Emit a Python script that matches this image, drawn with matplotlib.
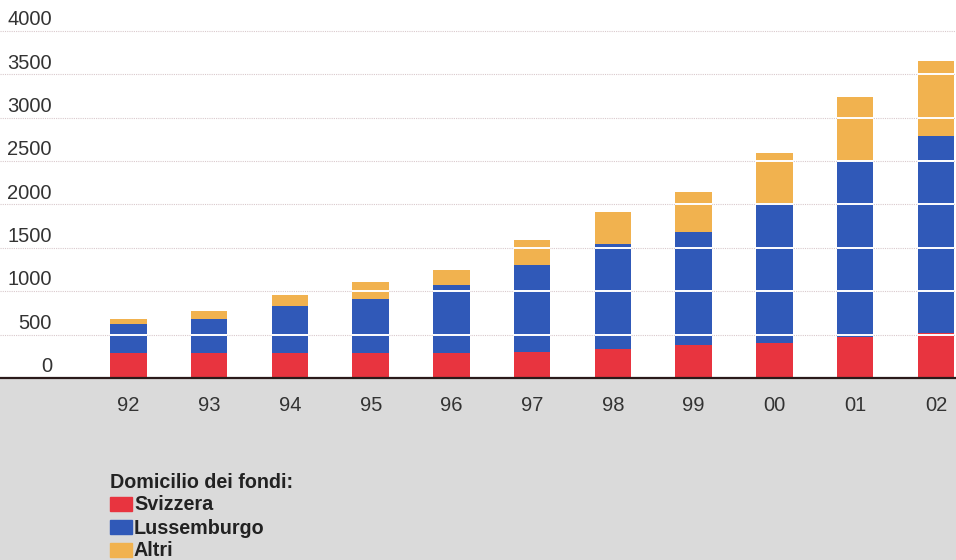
import matplotlib.pyplot as plt
import matplotlib.transforms as mtransforms
import numpy as np

plt.rcParams['font.family'] = ['Liberation Sans', 'DejaVu Sans']

# ------------------------------------------------------------------
# Data
# ------------------------------------------------------------------
years = ["92", "93", "94", "95", "96", "97", "98", "99", "00", "01", "02"]
svizzera = [286, 286, 286, 286, 286, 298, 329, 385, 406, 471, 522]
lussemburgo = [332, 393, 539, 621, 782, 1001, 1221, 1299, 1606, 2033, 2267]
altri = [66, 98, 128, 196, 173, 297, 361, 462, 577, 732, 869]

y_ticks = [0, 500, 1000, 1500, 2000, 2500, 3000, 3500, 4000]
legend_title = "Domicilio dei fondi:"
legend_labels = ["Svizzera", "Lussemburgo", "Altri"]

RED = "#e8343f"
BLUE = "#3059b8"
ORANGE = "#f1b24f"
GRAY_BG = "#dadada"
TEXT = "#333333"

fig = plt.figure(figsize=(9.56, 5.60), dpi=100)
fig.patch.set_facecolor(GRAY_BG)

# white plotting area sits on top of the gray strip
ax = fig.add_axes([0, 1 - 378 / 560, 1, 378 / 560])
ax.set_facecolor("white")

x = np.arange(len(years))
width = 0.452
bottom2 = np.array(svizzera)
bottom3 = bottom2 + np.array(lussemburgo)
totals = bottom3 + np.array(altri)

ax.bar(x, svizzera, width, color=RED, zorder=2)
ax.bar(x, lussemburgo, width, bottom=bottom2, color=BLUE, zorder=2)
ax.bar(x, altri, width, bottom=bottom3, color=ORANGE, zorder=2)

ax.set_xlim(-1.591, 10.248)
ax.set_ylim(0, 4357)

# gridlines: faint on the white, white across the bars
for v in y_ticks[1:]:
    ax.axhline(v, color="#d9c9cc", lw=0.8, ls=(0, (1, 1)), zorder=1)
    for i in range(len(years)):
        if totals[i] > v:
            ax.hlines(v, x[i] - width / 2, x[i] + width / 2, color="white", lw=1.4, zorder=3)

# y labels drawn inside the axes, right aligned, sitting above their gridline
trans = mtransforms.blended_transform_factory(ax.transAxes, ax.transData)
for v in y_ticks:
    ax.text(52 / 956, v + 130, str(v), transform=trans,
            ha="right", va="center", fontsize=14.5, color=TEXT)

ax.set_yticks([])
ax.set_xticks(x)
ax.set_xticklabels(years, fontsize=14.5, color=TEXT)
ax.tick_params(axis="x", length=0, pad=13)
for s in ["top", "right", "left"]:
    ax.spines[s].set_visible(False)
ax.spines["bottom"].set_color("#2a1a1a")
ax.spines["bottom"].set_linewidth(1.6)

# legend built by hand
fig.text(110 / 956, 1 - 482 / 560, legend_title, fontsize=14.2, fontweight="bold",
         color="#222222", va="center", ha="left")
colors = [RED, BLUE, ORANGE]
for k, (lab, c) in enumerate(zip(legend_labels, colors)):
    yc = 504 + 23 * k
    fig.patches.append(plt.Rectangle((110 / 956, 1 - (yc + 7) / 560), 22 / 956, 14 / 560,
                                     transform=fig.transFigure, color=c, figure=fig))
    fig.text(134 / 956, 1 - (yc + 1) / 560, lab, fontsize=14.2, fontweight="bold",
             color="#222222", va="center", ha="left")

fig.savefig("out.png", dpi=100, facecolor=fig.get_facecolor())
